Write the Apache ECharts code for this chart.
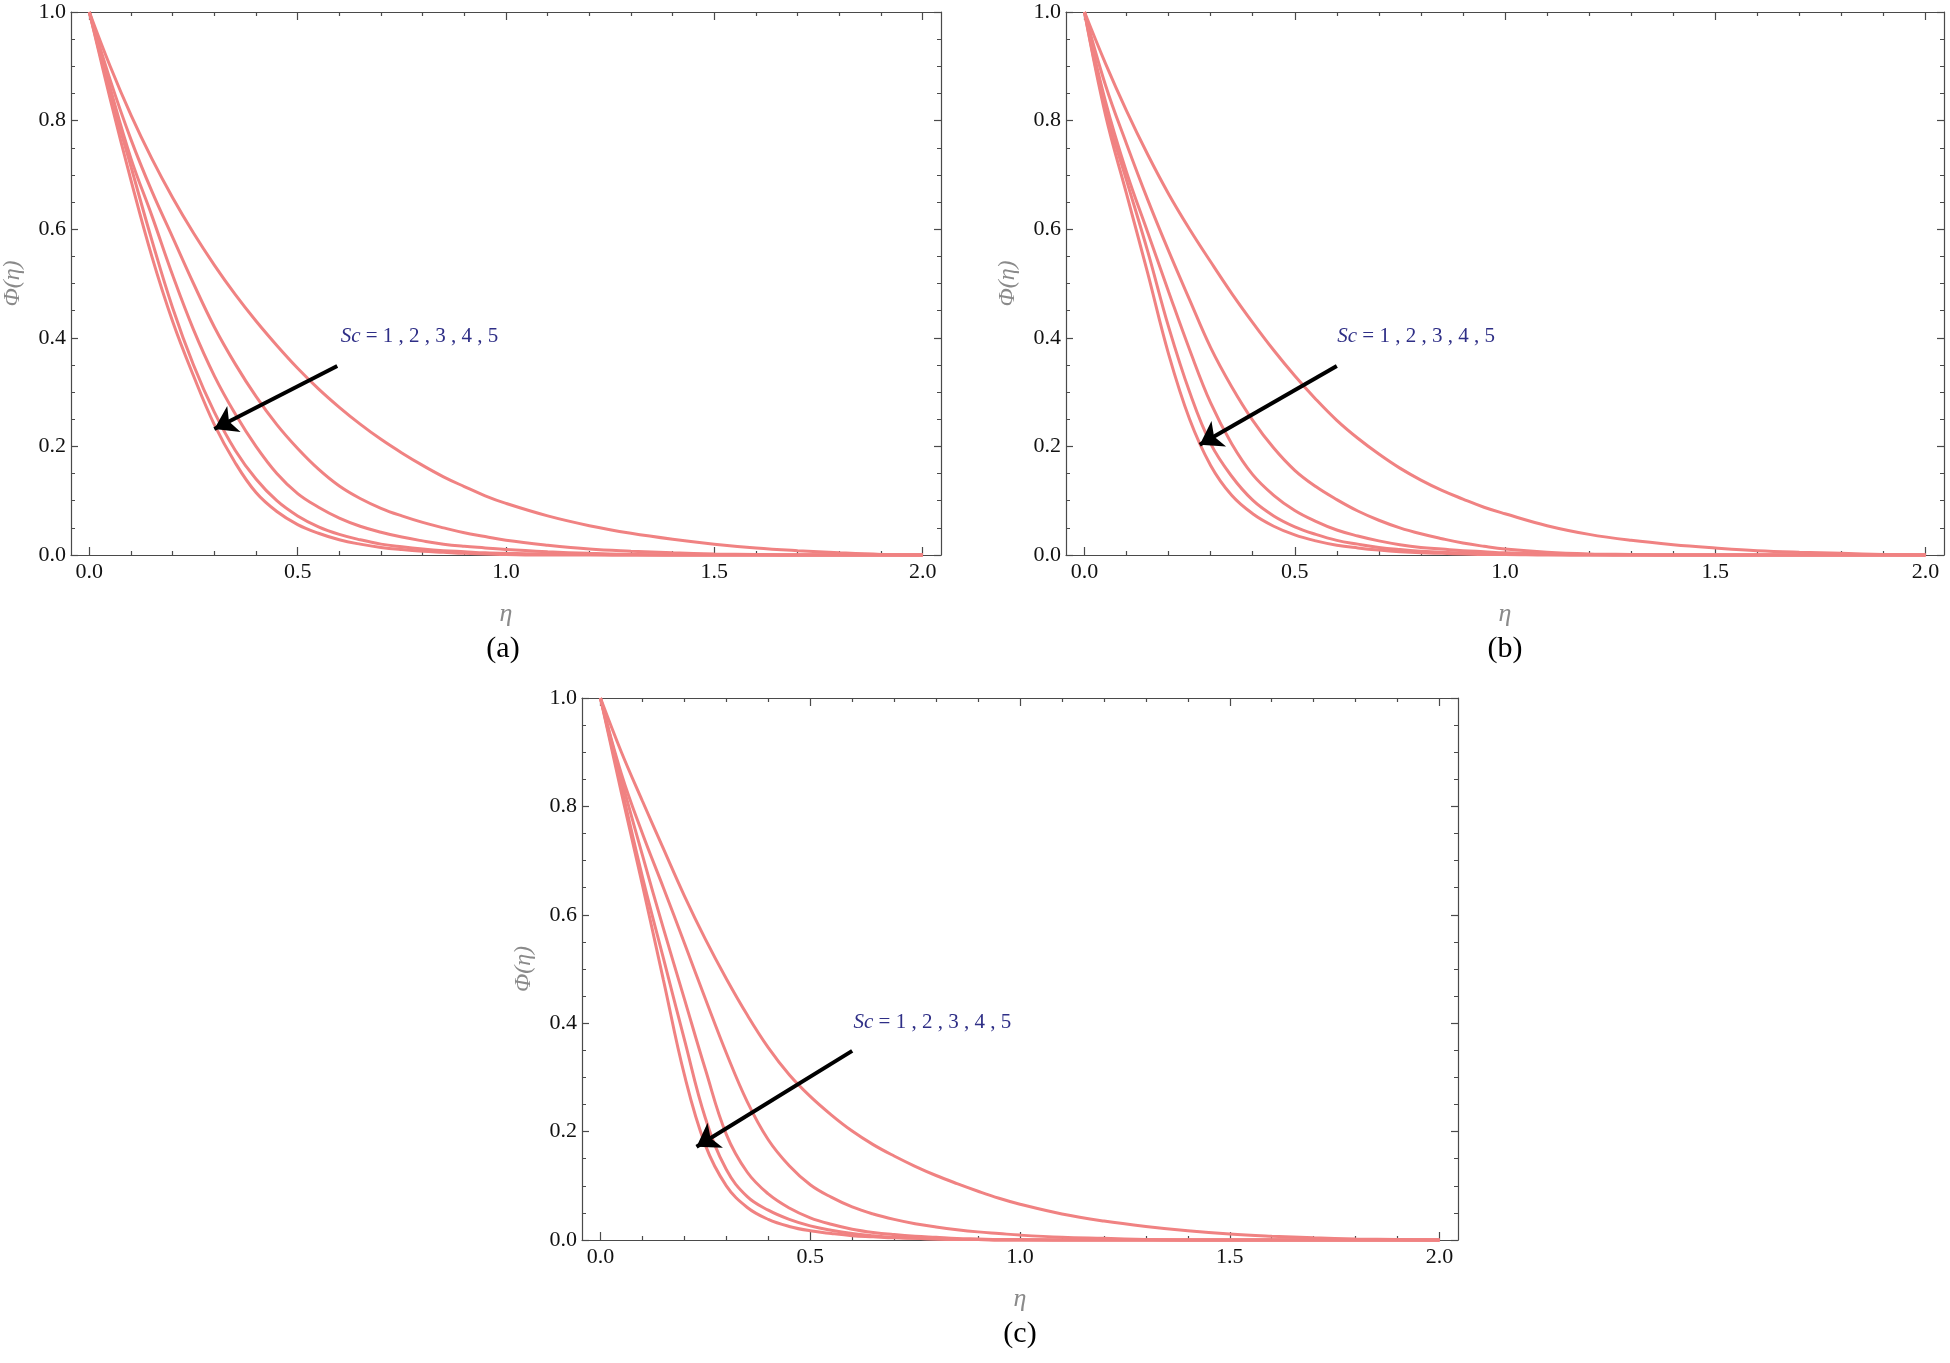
<!DOCTYPE html>
<html>
<head>
<meta charset="utf-8">
<title>Phi(eta) for Sc</title>
<script src="https://cdn.jsdelivr.net/npm/echarts@6/dist/echarts.min.js"></script>
<style>
	html, body { margin: 0; padding: 0; background: #fff; }
	#chart { width: 1950px; height: 1363px; }
</style>
</head>
<body>
<div id="chart"></div>
<script>
// eta values (x) and the read-off profiles, Sc = 1..5
var eta = [0.0, 0.05, 0.1, 0.15, 0.2, 0.25, 0.3, 0.35, 0.4, 0.45, 0.5,
	0.55, 0.6, 0.65, 0.7, 0.75, 0.8, 0.85, 0.9, 0.95, 1.0,
	1.1, 1.2, 1.3, 1.4, 1.5, 1.6, 1.7, 1.8, 1.9, 2.0];
var scLabels = ['Sc = 1', 'Sc = 2', 'Sc = 3', 'Sc = 4', 'Sc = 5'];

// panel (a)
var phiA1 = [1, 0.9, 0.81, 0.73, 0.658, 0.593, 0.534, 0.48, 0.431, 0.386, 0.344,
	0.306, 0.272, 0.241, 0.213, 0.188, 0.165, 0.144, 0.126, 0.109, 0.095,
	0.072, 0.054, 0.04, 0.029, 0.02, 0.013, 0.008, 0.004, 0.001, 0];
var phiA2 = [1, 0.875, 0.765, 0.67, 0.585, 0.50, 0.42, 0.352, 0.292, 0.24, 0.196,
	0.158, 0.127, 0.104, 0.086, 0.072, 0.06, 0.05, 0.041, 0.034, 0.027,
	0.018, 0.011, 0.007, 0.004, 0.002, 0.001, 0, 0, 0, 0];
var phiA3 = [1, 0.86, 0.73, 0.625, 0.515, 0.415, 0.33, 0.26, 0.20, 0.15, 0.113,
	0.088, 0.068, 0.053, 0.042, 0.033, 0.026, 0.02, 0.016, 0.013, 0.01,
	0.006, 0.003, 0.001, 0, 0, 0, 0, 0, 0, 0];
var phiA4 = [1, 0.85, 0.715, 0.58, 0.455, 0.35, 0.263, 0.193, 0.14, 0.10, 0.072,
	0.052, 0.038, 0.028, 0.02, 0.015, 0.011, 0.008, 0.006, 0.004, 0.003,
	0.002, 0.001, 0, 0, 0, 0, 0, 0, 0, 0];
var phiA5 = [1, 0.84, 0.69, 0.55, 0.43, 0.33, 0.24, 0.17, 0.115, 0.08, 0.056,
	0.04, 0.028, 0.02, 0.014, 0.01, 0.007, 0.005, 0.003, 0.002, 0.001,
	0, 0, 0, 0, 0, 0, 0, 0, 0, 0];

// panel (b)
var phiB1 = [1, 0.905, 0.818, 0.738, 0.665, 0.6, 0.54, 0.482, 0.428, 0.377, 0.33,
	0.287, 0.248, 0.215, 0.186, 0.16, 0.138, 0.119, 0.103, 0.088, 0.076,
	0.054, 0.038, 0.027, 0.019, 0.013, 0.008, 0.005, 0.003, 0.001, 0];
var phiB2 = [1, 0.865, 0.757, 0.655, 0.56, 0.47, 0.382, 0.31, 0.248, 0.197, 0.156,
	0.126, 0.102, 0.081, 0.064, 0.05, 0.039, 0.03, 0.022, 0.016, 0.011,
	0.005, 0.002, 0.001, 0, 0, 0, 0, 0, 0, 0];
var phiB3 = [1, 0.835, 0.705, 0.595, 0.485, 0.378, 0.28, 0.205, 0.148, 0.11, 0.082,
	0.062, 0.046, 0.035, 0.026, 0.019, 0.014, 0.011, 0.008, 0.006, 0.004,
	0.002, 0.001, 0, 0, 0, 0, 0, 0, 0, 0];
var phiB4 = [1, 0.82, 0.69, 0.56, 0.42, 0.30, 0.205, 0.145, 0.101, 0.072, 0.052,
	0.038, 0.027, 0.02, 0.014, 0.01, 0.007, 0.005, 0.004, 0.003, 0.002,
	0.001, 0, 0, 0, 0, 0, 0, 0, 0, 0];
var phiB5 = [1, 0.81, 0.665, 0.52, 0.37, 0.25, 0.165, 0.11, 0.076, 0.053, 0.037,
	0.026, 0.018, 0.013, 0.009, 0.006, 0.004, 0.003, 0.002, 0.001, 0.001,
	0, 0, 0, 0, 0, 0, 0, 0, 0, 0];

// panel (c)
var phiC1 = [1, 0.9, 0.81, 0.722, 0.635, 0.555, 0.482, 0.415, 0.355, 0.305, 0.265,
	0.231, 0.201, 0.176, 0.155, 0.136, 0.119, 0.104, 0.09, 0.077, 0.066,
	0.048, 0.035, 0.025, 0.017, 0.011, 0.007, 0.004, 0.002, 0.001, 0];
var phiC2 = [1, 0.86, 0.75, 0.65, 0.548, 0.445, 0.345, 0.255, 0.185, 0.137, 0.102,
	0.079, 0.061, 0.048, 0.038, 0.03, 0.024, 0.019, 0.015, 0.012, 0.009,
	0.005, 0.003, 0.001, 0, 0, 0, 0, 0, 0, 0];
var phiC3 = [1, 0.85, 0.71, 0.575, 0.445, 0.315, 0.195, 0.125, 0.085, 0.059, 0.041,
	0.029, 0.02, 0.014, 0.01, 0.007, 0.005, 0.003, 0.002, 0.001, 0.001,
	0, 0, 0, 0, 0, 0, 0, 0, 0, 0];
var phiC4 = [1, 0.835, 0.67, 0.52, 0.37, 0.225, 0.13, 0.08, 0.055, 0.038, 0.026,
	0.018, 0.012, 0.008, 0.005, 0.003, 0.002, 0.001, 0.001, 0, 0,
	0, 0, 0, 0, 0, 0, 0, 0, 0, 0];
var phiC5 = [1, 0.825, 0.655, 0.48, 0.305, 0.175, 0.1, 0.06, 0.038, 0.025, 0.017,
	0.012, 0.008, 0.006, 0.004, 0.003, 0.002, 0.001, 0.001, 0, 0,
	0, 0, 0, 0, 0, 0, 0, 0, 0, 0];

// tick values
var xMajor = [0, 0.5, 1.0, 1.5, 2.0];
var xMinor = [0.1, 0.2, 0.3, 0.4, 0.6, 0.7, 0.8, 0.9, 1.1, 1.2, 1.3, 1.4, 1.6, 1.7, 1.8, 1.9];

var panels = [
	{ name: '(a)', box: [65, 12, 876, 543], curves: [phiA1, phiA2, phiA3, phiA4, phiA5],
		arrow: [[0.595, 0.348], [0.30, 0.232]], note: [0.602, 0.403] },
	{ name: '(b)', box: [1066, 12, 878, 543], curves: [phiB1, phiB2, phiB3, phiB4, phiB5],
		arrow: [[0.60, 0.348], [0.274, 0.203]], note: [0.60, 0.403] },
	{ name: '(c)', box: [582, 698, 876, 542], curves: [phiC1, phiC2, phiC3, phiC4, phiC5],
		arrow: [[0.60, 0.349], [0.229, 0.172]], note: [0.602, 0.402] }
];

var serif = '"Liberation Serif", "Times New Roman", "DejaVu Serif", serif';
var frameColor = '#4a4a4a';
var lineColor = '#f08282';
var pad = 0.044;

var grids = [], xAxes = [], yAxes = [], series = [], graphics = [];

function xAxisOf(p, pos, ticks, len, withLine) {
	return {
		type : 'value',
		gridIndex : p,
		position : pos,
		min : -pad,
		max : 2 + pad,
		axisLine : { show : withLine, onZero : false, lineStyle : { color : frameColor, width : 1.2 } },
		axisTick : { show : true, inside : true, length : len, customValues : ticks,
			lineStyle : { color : frameColor, width : 1.2 } },
		axisLabel : { show : withLine && pos == 'bottom', customValues : xMajor,
			formatter : function(v) { return v.toFixed(1); },
			color : '#111', fontFamily : serif, fontSize : 22, margin : 6 },
		splitLine : { show : false },
		name : (withLine && pos == 'bottom') ? 'η' : '',
		nameLocation : 'middle',
		nameGap : 46,
		nameTextStyle : { color : '#8a8a8a', fontFamily : serif, fontStyle : 'italic', fontSize : 26 }
	};
}

function yAxisOf(p, pos) {
	return {
		type : 'value',
		gridIndex : p,
		position : pos,
		min : 0,
		max : 1,
		interval : 0.2,
		axisLine : { show : true, onZero : false, lineStyle : { color : frameColor, width : 1.2 } },
		axisTick : { show : true, inside : true, length : 7, lineStyle : { color : frameColor, width : 1.2 } },
		minorTick : { show : true, splitNumber : 4, length : 4, lineStyle : { color : frameColor, width : 1 } },
		axisLabel : { show : pos == 'left', formatter : function(v) { return v.toFixed(1); },
			color : '#111', fontFamily : serif, fontSize : 22, margin : 5 },
		splitLine : { show : false },
		name : pos == 'left' ? 'Φ(η)' : '',
		nameLocation : 'middle',
		nameGap : 46,
		nameTextStyle : { color : '#8a8a8a', fontFamily : serif, fontStyle : 'italic', fontSize : 24 }
	};
}

panels.forEach(function(panel, p) {
	var b = panel.box;
	grids.push({ left : b[0], top : b[1], width : b[2], height : b[3], show : false });

	var xBase = xAxes.length;
	xAxes.push(xAxisOf(p, 'bottom', xMajor, 8, true));
	xAxes.push(xAxisOf(p, 'bottom', xMinor, 4, false));
	xAxes.push(xAxisOf(p, 'top', xMajor, 8, true));
	xAxes.push(xAxisOf(p, 'top', xMinor, 4, false));

	var yBase = yAxes.length;
	yAxes.push(yAxisOf(p, 'left'));
	yAxes.push(yAxisOf(p, 'right'));

	panel.curves.forEach(function(vals, k) {
		var s = {
			name : scLabels[k],
			type : 'line',
			xAxisIndex : xBase,
			yAxisIndex : yBase,
			data : eta.map(function(x, i) { return [x, vals[i]]; }),
			showSymbol : false,
			smooth : 0.4,
			clip : false,
			lineStyle : { color : lineColor, width : 3 },
			z : 2
		};
		if (k == 0) {
			s.markLine = {
				silent : true,
				symbol : [ 'none', 'arrow' ],
				symbolSize : 22,
				lineStyle : { color : '#000', width : 4, type : 'solid' },
				label : { show : false },
				data : [ [ { coord : panel.arrow[0] }, { coord : panel.arrow[1] } ] ],
				z : 5
			};
			s.markPoint = {
				silent : true,
				symbol : 'circle',
				symbolSize : 1,
				itemStyle : { color : 'rgba(0,0,0,0)' },
				label : {
					show : true,
					position : 'right',
					distance : 0,
					formatter : '{i|Sc} = 1 , 2 , 3 , 4 , 5',
					color : '#2e2e86',
					fontFamily : serif,
					fontSize : 21,
					rich : { i : { fontStyle : 'italic', fontFamily : serif, fontSize : 21, color : '#2e2e86' } }
				},
				data : [ { coord : panel.note } ]
			};
		}
		series.push(s);
	});

	graphics.push({
		type : 'text',
		x : b[0] + b[2] / 2,
		y : b[1] + b[3] + 94,
		style : { text : panel.name, fill : '#000', font : '30px ' + serif, textAlign : 'center', textVerticalAlign : 'middle' }
	});
});

var myChart = echarts.init(document.getElementById('chart'), null, { renderer : 'canvas' });
myChart.setOption({
	animation : false,
	backgroundColor : '#ffffff',
	grid : grids,
	xAxis : xAxes,
	yAxis : yAxes,
	series : series,
	graphic : graphics
});
</script>
</body>
</html>
